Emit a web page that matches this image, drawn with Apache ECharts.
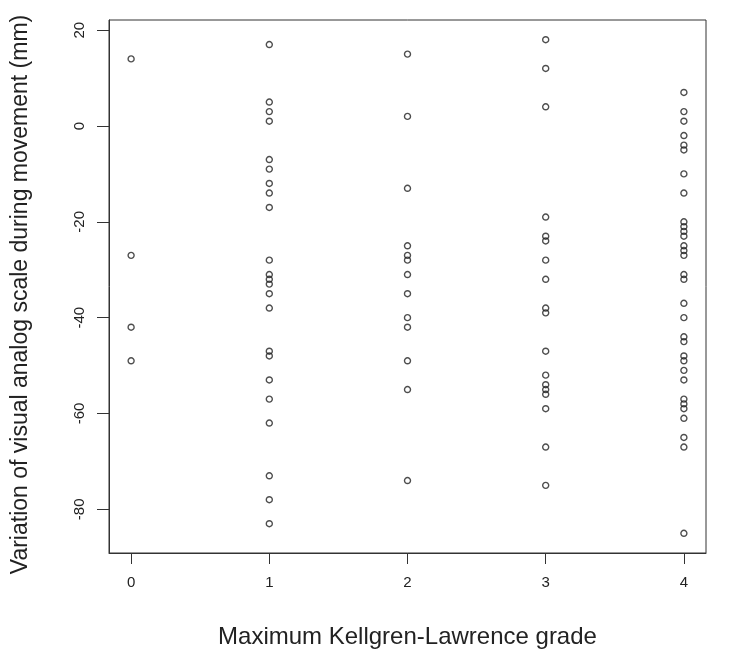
<!DOCTYPE html>
<html>
<head>
<meta charset="utf-8">
<script src="https://cdn.jsdelivr.net/npm/echarts@6/dist/echarts.min.js"></script>
<style>
    html, body { margin: 0; padding: 0; background: #fff; }
    #main { width: 750px; height: 664px; }
</style>
</head>
<body>
<div id="main"></div>
<script>
// values, one list per grade
var grades = [0, 1, 2, 3, 4]
var grade0 = [14, -27, -42, -49]
var grade1 = [17, 5, 3, 1, -7, -9, -12, -14, -17, -28, -31, -32, -33, -35, -38, -47, -48, -53, -57, -62, -73, -78, -83]
var grade2 = [15, 2, -13, -25, -27, -28, -31, -35, -40, -42, -49, -55, -74]
var grade3 = [18, 12, 4, -19, -23, -24, -28, -32, -38, -39, -47, -52, -54, -55, -56, -59, -67, -75]
var grade4 = [7, 3, 1, -2, -4, -5, -10, -14, -20, -21, -22, -23, -25, -26, -27, -31, -32, -37, -40, -44, -45, -48, -49, -51, -53, -57, -58, -59, -61, -65, -67, -85]

var xTicks = [0, 1, 2, 3, 4]
var yTicks = [-80, -60, -40, -20, 0, 20]

var xTitle = 'Maximum Kellgren-Lawrence grade'
var yTitle = 'Variation of visual analog scale during movement (mm)'

;(function () {
    var myChart = echarts.init(document.getElementById('main'))

    var groups = [grade0, grade1, grade2, grade3, grade4]
    var points = []
    for (var i = 0; i < groups.length; i++) {
        for (var j = 0; j < groups[i].length; j++) {
            points.push([grades[i], groups[i][j]])
        }
    }

    var textColor = '#222'
    var lineColor = '#333'

    var option = {
        animation: false,
        backgroundColor: '#fff',
        grid: {
            left: 109,
            right: 44,
            top: 20,
            bottom: 111,
            outerBoundsMode: 'none',
            containLabel: false,
            show: true,
            borderColor: lineColor,
            borderWidth: 1
        },
        xAxis: {
            type: 'value',
            min: -0.16,
            max: 4.16,
            name: xTitle,
            nameLocation: 'middle',
            nameGap: 72,
            nameTextStyle: { fontFamily: 'Liberation Sans', fontSize: 24, color: textColor },
            axisLine: { show: true, onZero: false, lineStyle: { color: lineColor } },
            axisTick: { show: true, length: 11, customValues: xTicks, lineStyle: { color: lineColor } },
            axisLabel: {
                customValues: xTicks,
                margin: 22,
                fontFamily: 'Liberation Sans',
                fontSize: 15,
                color: textColor
            },
            splitLine: { show: false }
        },
        yAxis: {
            type: 'value',
            min: -89.12,
            max: 22.12,
            name: yTitle,
            nameLocation: 'middle',
            nameGap: 77,
            // extra padding on the far end pushes the title down a little
            nameTextStyle: { fontFamily: 'Liberation Sans', fontSize: 23, color: textColor, padding: [0, 16, 0, 0] },
            axisLine: { show: true, onZero: false, lineStyle: { color: lineColor } },
            axisTick: { show: true, length: 12, customValues: yTicks, lineStyle: { color: lineColor } },
            axisLabel: {
                customValues: yTicks,
                rotate: 90,
                margin: 22,
                fontFamily: 'Liberation Sans',
                fontSize: 15,
                color: textColor
            },
            splitLine: { show: false }
        },
        series: [
            {
                type: 'scatter',
                data: points,
                symbol: 'circle',
                symbolSize: 6,
                itemStyle: {
                    color: 'rgba(0,0,0,0)',
                    borderColor: '#222',
                    borderWidth: 1.4
                }
            }
        ]
    }
    myChart.setOption(option)
}())
</script>
</body>
</html>
